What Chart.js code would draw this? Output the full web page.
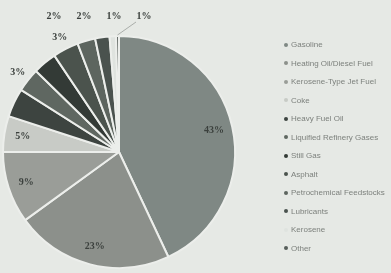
<!DOCTYPE html>
<html lang="en">
<head>
  <meta charset="UTF-8">
  <title>Refinery Product Yield</title>
  <style>
    body {
      margin: 0;
      padding: 0;
      background: #e6e9e5;
    }

    .wrap {
      position: relative;
      width: 391px;
      height: 273px;
      filter: blur(0.4px);
    }

    #legend {
      position: absolute;
      left: 284px;
      top: 39px;
      margin: 0;
      padding: 0;
      list-style: none;
      font-family: "Liberation Sans", Arial, sans-serif;
      font-size: 8px;
      color: #7d817d;
    }

    #legend li {
      height: 18.5px;
      line-height: 12px;
      white-space: nowrap;
    }

    #legend span {
      display: inline-block;
      width: 4px;
      height: 4px;
      border-radius: 50%;
      margin-right: 3px;
      vertical-align: middle;
    }
  </style>
</head>
<body>
  <div class="wrap">
    <canvas id="pie"></canvas>
    <ul id="legend"></ul>
  </div>

  <script src="https://cdn.jsdelivr.net/npm/chart.js"></script>
  <script>
    // product names, in legend order
    const products = [
      'Gasoline', 'Heating Oil/Diesel Fuel', 'Kerosene-Type Jet Fuel', 'Coke',
      'Heavy Fuel Oil', 'Liquified Refinery Gases', 'Still Gas', 'Asphalt',
      'Petrochemical Feedstocks', 'Lubricants', 'Kerosene', 'Other'
    ];
    // share of a barrel (%)
    const shares = [43, 22, 10, 5, 4, 3.3, 3.3, 3.6, 2.5, 2, 0.9, 0.4];
    // percentage labels printed on the chart ('' = no label)
    const pctLabels = ['43%', '23%', '9%', '5%', '', '3%', '', '3%', '2%', '2%', '1%', '1%'];
    const sliceColors = [
      '#7f8884', '#8c908b', '#9a9d98', '#c8cbc6', '#3d4440', '#5f6761',
      '#333a36', '#4b534d', '#5d655f', '#4a524e', '#dfe3df', '#575e5a'
    ];

    // legend (html)
    const legendEl = document.getElementById('legend');
    products.forEach((p, i) => {
      const li = document.createElement('li');
      li.innerHTML = '<span style="background:' + sliceColors[i] + '"></span>' + p;
      legendEl.appendChild(li);
    });

    // draws the % labels, small ones outside, top ones in a row
    const pctPlugin = {
      id: 'pct',
      afterDatasetsDraw(chart) {
        const ctx = chart.ctx;
        const arcs = chart.getDatasetMeta(0).data;
        ctx.save();
        ctx.font = 'bold 10px "Liberation Serif", serif';
        ctx.fillStyle = '#3b403d';
        ctx.textAlign = 'center';
        ctx.textBaseline = 'middle';
        const topRow = [];
        arcs.forEach((arc, i) => {
          if (!pctLabels[i]) return;
          const mid = (arc.startAngle + arc.endAngle) / 2;
          const inside = shares[i] >= 5;
          const r = inside ? arc.outerRadius * 0.84 : arc.outerRadius + 13;
          const x = arc.x + Math.cos(mid) * r;
          const y = arc.y + Math.sin(mid) * r;
          if (!inside && y < 30) {
            topRow.push({ i, arc });
          } else {
            ctx.fillText(pctLabels[i], x, y);
          }
        });
        // top row labels spread out evenly above the pie
        const step = 30;
        const cx = arcs[0].x - 20;
        topRow.forEach((t, k) => {
          const x = cx + (k - (topRow.length - 1) / 2) * step;
          const y = chart.chartArea.top - 19;
          ctx.fillText(pctLabels[t.i], x, y);
          if (k === topRow.length - 1) {
            // leader line for the last one
            const mid = (t.arc.startAngle + t.arc.endAngle) / 2;
            ctx.strokeStyle = '#9a9e9a';
            ctx.lineWidth = 0.8;
            ctx.beginPath();
            ctx.moveTo(t.arc.x + Math.cos(mid) * (t.arc.outerRadius + 1), t.arc.y + Math.sin(mid) * (t.arc.outerRadius + 1));
            ctx.lineTo(x - 8, y + 6);
            ctx.stroke();
          }
        });
        ctx.restore();
      }
    };

    new Chart(document.getElementById('pie'), {
      type: 'pie',
      data: {
        labels: products,
        datasets: [{
          data: shares,
          backgroundColor: sliceColors,
          borderColor: '#eceeeb',
          borderWidth: 2
        }]
      },
      options: {
        responsive: true,
        maintainAspectRatio: false,
        animation: false,
        layout: {
          padding: { left: 2, top: 35, bottom: 4, right: 155 }
        },
        plugins: {
          legend: { display: false },
          tooltip: { enabled: false }
        }
      },
      plugins: [pctPlugin]
    });
  </script>
</body>
</html>
